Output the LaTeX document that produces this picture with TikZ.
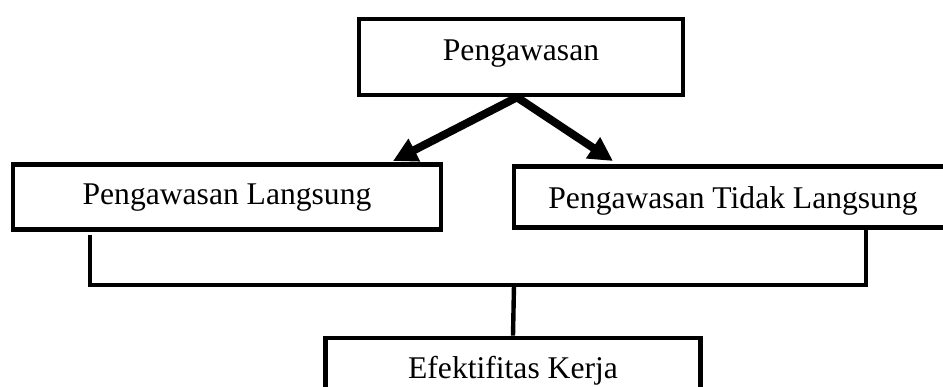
\documentclass[tikz,border=0pt]{standalone}
\usepackage{fontspec}
\setmainfont{Liberation Serif}
\usetikzlibrary{arrows.meta}
\begin{document}
\begin{tikzpicture}[x=1pt,y=-1pt,
  box/.style={draw, line width=4.6pt, inner sep=0pt, fill=white,
    font=\fontsize{31.6}{36}\selectfont, text height=22pt},
  conn/.style={line width=4.4pt},
  arr/.style={line width=8pt, -{Triangle[length=24pt,width=24pt]}}]
\useasboundingbox (0,0) rectangle (943,386);
\clip (0,0) rectangle (943,386);
\node[box, minimum width=324pt, minimum height=76pt, text depth=16pt] (P) at (521,57) {Pengawasan};
\node[box, minimum width=428pt, minimum height=65pt, text depth=7pt] (L) at (227,197) {Pengawasan Langsung};
\node[box, minimum width=438pt, minimum height=61pt, text depth=0pt] (R) at (733,197) {Pengawasan Tidak Langsung};
\node[box, minimum width=375pt, minimum height=65pt, text depth=7pt] (E) at (513,370.5) {Efektifitas Kerja};
\coordinate (tl) at (393,161);
\coordinate (tr) at (613,161);
\coordinate (j) at (514,285);
\draw[arr] ([xshift=-4pt]P.south) -- (tl);
\draw[arr] ([xshift=-4pt]P.south) -- (tr);
\draw[conn] ([shift={(-137,3)}]L.south) |- (j);
\draw[conn] ([xshift=133pt]R.south) |- (j);
\draw[conn] (j) -- (E.north);
\end{tikzpicture}
\end{document}
